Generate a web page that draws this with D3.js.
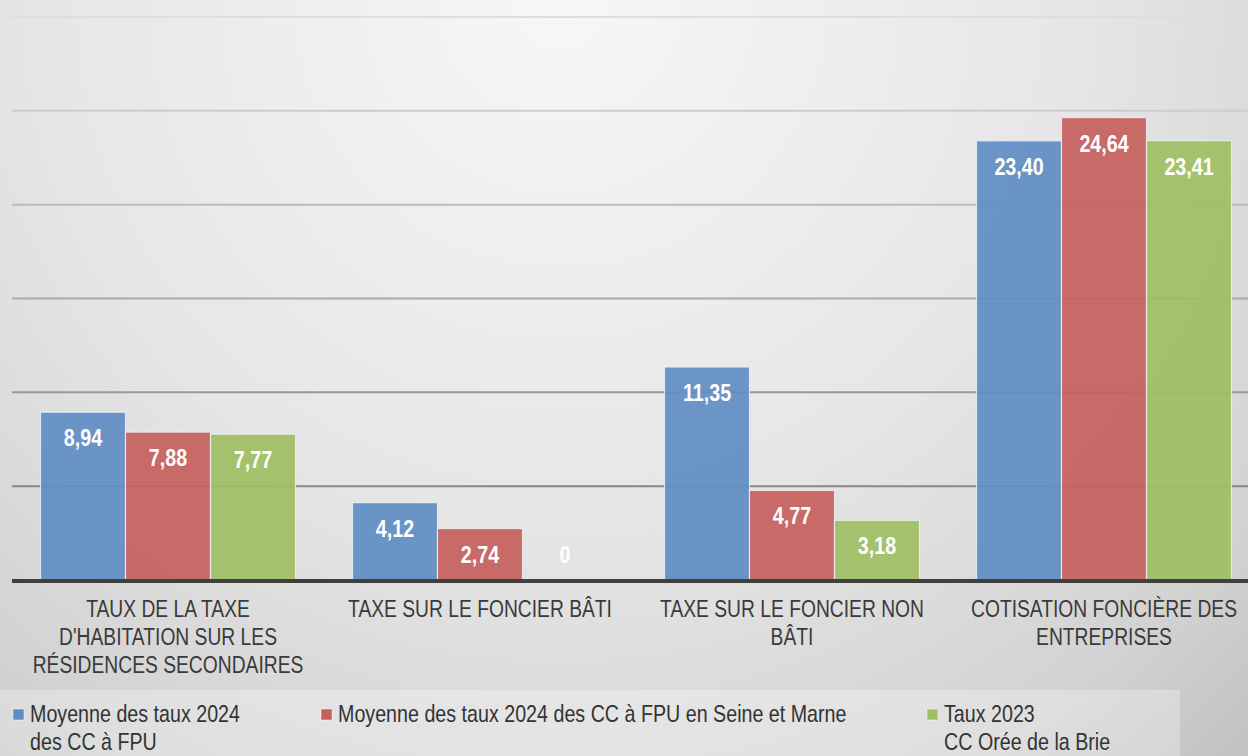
<!DOCTYPE html>
<html><head><meta charset="utf-8">
<script src="https://cdn.jsdelivr.net/npm/d3@7"></script>
<style>html,body{margin:0;padding:0;overflow:hidden;background:#ddd}svg{display:block}</style>
</head><body>
<script>
const categories = ["TAUX DE LA TAXE D'HABITATION SUR LES RÉSIDENCES SECONDAIRES","TAXE SUR LE FONCIER BÂTI","TAXE SUR LE FONCIER NON BÂTI","COTISATION FONCIÈRE DES ENTREPRISES"];
const categoryLines = [["TAUX DE LA TAXE","D'HABITATION SUR LES","RÉSIDENCES SECONDAIRES"],["TAXE SUR LE FONCIER BÂTI"],["TAXE SUR LE FONCIER NON","BÂTI"],["COTISATION FONCIÈRE DES","ENTREPRISES"]];
const seriesNames = ["Moyenne des taux 2024 des CC à FPU","Moyenne des taux 2024 des CC à FPU en Seine et Marne","Taux 2023 CC Orée de la Brie"];
const legendLines = [["Moyenne des taux 2024","des CC à FPU"],["Moyenne des taux 2024 des CC à FPU en Seine et Marne"],["Taux 2023","CC Orée de la Brie"]];
const moyenneCC = [8.94,4.12,11.35,23.40];
const moyenneSM = [7.88,2.74,4.77,24.64];
const taux2023 = [7.77,0,3.18,23.41];
const yTicks = [0,5,10,15,20,25,30];
const colors = ["#5f8cc3","#c45f5d","#9ebf64"];

const W=1248,H=756, NARROW=0.82;
const svg=d3.select("body").append("svg").attr("width",W).attr("height",H);
const defs=svg.append("defs");
const bg=defs.append("radialGradient").attr("id","bg").attr("gradientUnits","userSpaceOnUse")
 .attr("cx",560).attr("cy",0).attr("r",1150);
bg.append("stop").attr("offset","0").attr("stop-color","#f7f7f7");
bg.append("stop").attr("offset","0.45").attr("stop-color","#e6e6e6");
bg.append("stop").attr("offset","0.75").attr("stop-color","#d2d2d2");
bg.append("stop").attr("offset","1").attr("stop-color","#b4b4b4");
const gg=defs.append("linearGradient").attr("id","grid").attr("gradientUnits","userSpaceOnUse")
 .attr("x1",0).attr("y1",17).attr("x2",0).attr("y2",487);
gg.append("stop").attr("offset","0").attr("stop-color","#dedede");
gg.append("stop").attr("offset","1").attr("stop-color","#878787");

svg.append("rect").attr("width",W).attr("height",H).attr("fill","url(#bg)");
svg.append("rect").attr("x",0).attr("y",690).attr("width",1180).attr("height",66).attr("fill","#ffffff").attr("opacity",0.28);

const y=d3.scaleLinear().domain([0,30]).range([580,17]);
const x=d3.scaleBand().domain(categories).range([12,1260]).paddingInner(0).paddingOuter(0);
const xs=d3.scaleBand().domain(seriesNames).range([28.5,283.5]).padding(0);

svg.append("g").selectAll("line").data(yTicks.filter(d=>d>0)).join("line")
 .attr("x1",12).attr("x2",W).attr("y1",d=>y(d)).attr("y2",d=>y(d))
 .attr("stroke","url(#grid)").attr("stroke-width",2);

const series=[moyenneCC,moyenneSM,taux2023];
const data=[];
categories.forEach((c,i)=>series.forEach((s,j)=>data.push({c,s:seriesNames[j],j,v:s[i]})));

svg.append("g").selectAll("rect").data(data.filter(d=>d.v>0)).join("rect")
 .attr("x",d=>x(d.c)+xs(d.s)).attr("width",xs.bandwidth())
 .attr("y",d=>y(d.v)).attr("height",d=>y(0)-y(d.v))
 .attr("fill",d=>colors[d.j]).attr("fill-opacity",0.92)
 .attr("stroke","#eef2f6").attr("stroke-opacity",0.8).attr("stroke-width",1.2);

svg.append("line").attr("x1",12).attr("x2",W).attr("y1",y(0)+1).attr("y2",y(0)+1)
 .attr("stroke","#3f3f3f").attr("stroke-width",4);

const fmt=v=>v===0?"0":v.toFixed(2).replace(".",",");
svg.append("g").selectAll("text").data(data).join("text")
 .attr("transform",d=>`translate(${x(d.c)+xs(d.s)+xs.bandwidth()/2},${Math.min(y(d.v)+34,563)}) scale(${NARROW},1)`)
 .attr("text-anchor","middle").attr("fill","#fff")
 .style("font","bold 24px 'Liberation Sans', Arial, sans-serif")
 .text(d=>fmt(d.v));

const cl=svg.append("g").style("font","23.5px 'Liberation Sans', Arial, sans-serif").attr("fill","#3a3a3a");
categories.forEach((c,i)=>{
  categoryLines[i].forEach((t,k)=>{
    cl.append("text").attr("transform",`translate(${x(c)+x.bandwidth()/2},${617+28*k}) scale(${NARROW},1)`)
      .attr("text-anchor","middle").text(t);
  });
});

const legX=[13,321,927];
const lg=svg.append("g").style("font","24px 'Liberation Sans', Arial, sans-serif").attr("fill","#333");
seriesNames.forEach((s,j)=>{
  lg.append("rect").attr("x",legX[j]).attr("y",709).attr("width",11).attr("height",11).attr("fill",colors[j])
    .attr("stroke","#ffffff").attr("stroke-opacity",0.5).attr("stroke-width",1);
  legendLines[j].forEach((t,k)=>{
    lg.append("text").attr("transform",`translate(${legX[j]+17},${722+28*k}) scale(${NARROW},1)`).text(t);
  });
});
</script>
</body></html>
